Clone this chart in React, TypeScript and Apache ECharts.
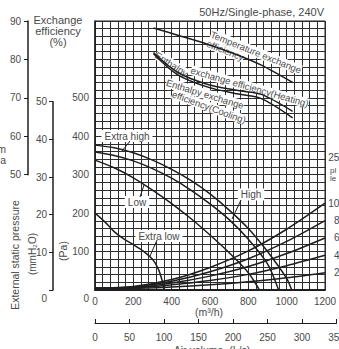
import React, { useEffect, useRef } from "react";
import * as echarts from "echarts";

const FONT = "'Liberation Sans', Arial, Helvetica, sans-serif";
const TEXT = "#4a4a4a";
const INK = "#1e1e1e";

// ---- axes ----
const airVolumeMax = 1200; // m³/h
const airVolumeStep = 200;
const airVolumeGridStep = 40;
const airVolumeLsMax = 350; // L/s
const airVolumeLsStep = 50;
const pressureMax = 700; // Pa (grid top)
const pressureLabelMax = 500;
const pressureStep = 100;
const pressureGridStep = 20;
const efficiencyMin = 50;
const efficiencyMax = 90;
const efficiencyStep = 10;
const efficiencyAtZeroPa = 20; // 50 % sits on 300 Pa, 90 % on 700 Pa
const mmH2OMax = 50;
const mmH2OStep = 10;
const powerAxisMax = 310;
const powerLabels = [20, 40, 60, 80, 100];

// ---- fan curves (m³/h, Pa) ----
const extraHighFlow = [0, 100, 200, 300, 400, 500, 600, 700, 800, 900, 1000, 1026];
const extraHighPa = [377, 370, 357, 338, 314, 285, 250, 208, 160, 100, 30, 0];
const highFlow = [0, 100, 200, 300, 400, 500, 600, 700, 800, 900, 958];
const highPa = [359, 350, 336, 316, 291, 260, 224, 183, 132, 68, 0];
const lowFlow = [0, 100, 200, 300, 400, 500, 600, 700, 800, 858];
const lowPa = [338, 318, 292, 260, 225, 186, 143, 97, 45, 0];
const extraLowFlow = [0, 50, 100, 150, 200, 250, 300, 330, 350, 360];
const extraLowPa = [200, 178, 152, 133, 118, 102, 80, 55, 25, 0];

// ---- power curves (m³/h, right scale) ----
const powerFlow = [0, 200, 400, 600, 800, 1000, 1200];
const powerExtraHigh = [2, 4, 12, 26, 45, 70, 100];
const powerHigh = [2, 3.5, 10, 21, 36, 56, 80];
const powerMid = [2, 3, 8, 16, 27, 42, 60];
const powerLow = [2, 2.5, 6, 11, 18, 28, 40];
const powerExtraLow = [2, 2, 3.5, 6, 9.5, 14, 20];

// ---- exchange efficiency (m³/h, %) ----
const efficiencyFlow = [305, 432, 589, 747, 868, 1031];
const temperatureEff = [88.2, 86.3, 83.9, 81.1, 78.5, 74.0];
const enthalpyHeatingEff = [81.8, 76.6, 73.5, 71.9, 70.9, 66.5];
const enthalpyCoolingEff = [81.5, 76.0, 72.8, 71.0, 69.8, 64.8];

const zip = (xs: number[], ys: number[]) => xs.map((x, i) => [x, ys[i]]);
const deg = (d: number) => (d * Math.PI) / 180;

function txt(text: string, x: number, y: number, o: any = {}) {
  const style: any = {
    text,
    fontSize: o.size ?? 10,
    fontFamily: FONT,
    fill: o.color ?? TEXT,
    align: o.align ?? "center",
    verticalAlign: "middle",
  };
  if (o.bg) style.backgroundColor = o.bg;
  if (o.pad) style.padding = o.pad;
  return { type: "text", x, y, rotation: o.rot ? deg(o.rot) : 0, z: o.z ?? 1, silent: true, style };
}

function leader(x1: number, y1: number, x2: number, y2: number) {
  return {
    type: "line",
    z: 5,
    silent: true,
    shape: { x1, y1, x2, y2 },
    style: { stroke: INK, lineWidth: 1 },
  };
}

export default function App() {
  const ref = useRef<HTMLDivElement>(null);

  useEffect(() => {
    document.body.style.margin = "0";
    const chart = echarts.init(ref.current!, undefined, { renderer: "svg" });

    const gridLeft = 95;
    const gridTop = 21;
    const gridW = 230;
    const gridH = 269;
    const gridBottom = gridTop + gridH;

    const lineSeries = (data: number[][], yAxisIndex: number, width = 1.5) => ({
      type: "line",
      xAxisIndex: 0,
      yAxisIndex,
      data,
      smooth: 0.3,
      symbol: "none",
      z: 3,
      lineStyle: { color: INK, width },
    });

    const zeroLow = { z: { padding: [16, 0, 0, 0], fontSize: 10, color: TEXT, fontFamily: FONT } };
    const mmH = (gridH * mmH2OMax * 9.8) / pressureMax;
    const noBounds = { outerBoundsMode: "none", containLabel: false };

    const option: any = {
      animation: false,
      backgroundColor: "#fff",
      textStyle: { fontFamily: FONT },
      grid: [
        { ...noBounds, left: gridLeft, top: gridTop, width: gridW, height: gridH, show: true, borderColor: INK, borderWidth: 1 },
        { ...noBounds, left: 28, top: gridTop, width: 1, height: (gridH * (efficiencyMax - efficiencyMin) * 10) / pressureMax },
        { ...noBounds, left: 53, top: gridBottom - mmH, width: 1, height: mmH },
        { ...noBounds, left: gridLeft, top: 322, width: (gridW * airVolumeLsMax * 3.6) / airVolumeMax, height: 1 },
      ],
      xAxis: [
        {
          gridIndex: 0,
          type: "value",
          min: 0,
          max: airVolumeMax,
          interval: airVolumeGridStep,
          axisLine: { show: true, lineStyle: { color: INK, width: 2 } },
          axisTick: { show: false },
          splitLine: { show: true, lineStyle: { color: "#2e2e2e", width: 1 } },
          axisLabel: {
            margin: 6,
            color: TEXT,
            fontSize: 10,
            formatter: (v: number) => (v % airVolumeStep === 0 ? String(v) : ""),
          },
        },
        { gridIndex: 1, type: "value", show: false, min: 0, max: 1 },
        { gridIndex: 2, type: "value", show: false, min: 0, max: 1 },
        {
          gridIndex: 3,
          type: "value",
          min: 0,
          max: airVolumeLsMax,
          interval: airVolumeLsStep,
          axisLine: { show: true, onZero: false, lineStyle: { color: INK, width: 1 } },
          axisTick: { show: true, inside: true, length: 4, lineStyle: { color: INK } },
          splitLine: { show: false },
          axisLabel: { margin: 9, color: TEXT, fontSize: 10 },
        },
      ],
      yAxis: [
        {
          gridIndex: 0,
          type: "value",
          min: 0,
          max: pressureMax,
          interval: pressureGridStep,
          axisLine: { show: true, lineStyle: { color: INK, width: 1.5 } },
          axisTick: { show: false },
          splitLine: { show: true, lineStyle: { color: "#2e2e2e", width: 1 } },
          axisLabel: {
            margin: 6,
            color: TEXT,
            fontSize: 10,
            rich: zeroLow,
            formatter: (v: number) =>
              v % pressureStep === 0 && v <= pressureLabelMax ? (v === 0 ? "{z|0}" : String(v)) : "",
          },
        },
        {
          gridIndex: 0,
          type: "value",
          position: "right",
          min: 0,
          max: powerAxisMax,
          interval: 20,
          axisLine: { show: false },
          axisTick: { show: false },
          splitLine: { show: false },
          axisLabel: {
            margin: 20,
            align: "right",
            color: TEXT,
            fontSize: 10,
            formatter: (v: number) => (powerLabels.includes(v) ? String(v) : ""),
          },
        },
        { gridIndex: 0, type: "value", show: false, min: efficiencyAtZeroPa, max: efficiencyMax },
        {
          gridIndex: 1,
          type: "value",
          min: efficiencyMin,
          max: efficiencyMax,
          interval: efficiencyStep,
          axisLine: { show: true, lineStyle: { color: INK, width: 1.5 } },
          axisTick: { show: true, length: 4, lineStyle: { color: INK } },
          splitLine: { show: false },
          axisLabel: { margin: 7, color: TEXT, fontSize: 10 },
        },
        {
          gridIndex: 2,
          type: "value",
          min: 0,
          max: mmH2OMax,
          interval: mmH2OStep,
          axisLine: { show: true, lineStyle: { color: INK, width: 1.5 } },
          axisTick: { show: true, length: 4, lineStyle: { color: INK } },
          splitLine: { show: false },
          axisLabel: {
            margin: 6,
            color: TEXT,
            fontSize: 10,
            rich: zeroLow,
            formatter: (v: number) => (v === 0 ? "{z|0}" : String(v)),
          },
        },
        { gridIndex: 3, type: "value", show: false, min: 0, max: 1 },
      ],
      series: [
        lineSeries(zip(extraHighFlow, extraHighPa), 0),
        lineSeries(zip(highFlow, highPa), 0),
        lineSeries(zip(lowFlow, lowPa), 0),
        lineSeries(zip(extraLowFlow, extraLowPa), 0),
        lineSeries(zip(powerFlow, powerExtraHigh), 1),
        lineSeries(zip(powerFlow, powerHigh), 1),
        lineSeries(zip(powerFlow, powerMid), 1),
        lineSeries(zip(powerFlow, powerLow), 1),
        lineSeries(zip(powerFlow, powerExtraLow), 1),
        lineSeries(zip(efficiencyFlow, temperatureEff), 2),
        lineSeries(zip(efficiencyFlow, enthalpyHeatingEff), 2),
        lineSeries(zip(efficiencyFlow, enthalpyCoolingEff), 2),
      ],
      graphic: [
        txt("50Hz/Single-phase, 240V", 324, 12, { align: "right", size: 11 }),
        txt("Exchange", 58, 20, { size: 11 }),
        txt("efficiency", 58, 31, { size: 11 }),
        txt("(%)", 58, 42, { size: 11 }),
        txt("External static pressure", 15, 255, { rot: 90, size: 10.5 }),
        txt("(mmH\u2082O)", 32, 254, { rot: 90, size: 10 }),
        txt("(Pa)", 63, 251, { rot: 90, size: 10.5 }),
        txt("(m\u00b3/h)", 209, 312, { size: 10.5 }),
        txt("Air volume  (L/s)", 212, 350, { size: 10.5 }),
        txt("m", 6, 149, { align: "right", size: 10.5 }),
        txt("a", 6, 160, { align: "right", size: 10.5 }),
        txt("250", 345, 157, { align: "right", size: 10 }),
        txt("pl", 330, 170, { align: "left", size: 8 }),
        txt("le", 330, 178, { align: "left", size: 8 }),
        // efficiency labels
        txt("Temperature exchange", 211, 34, { align: "left", rot: -22, size: 9.5, bg: "#fff" }),
        txt("efficiency", 207, 43, { align: "left", rot: -22, size: 9.5, bg: "#fff" }),
        txt("Enthalpy", 156, 54, { align: "left", rot: -33, size: 9.5, bg: "#fff" }),
        txt("exchange efficiency(Heating)", 191, 70, { align: "left", rot: -16, size: 9.5, bg: "#fff" }),
        txt("Enthalpy exchange", 205, 94, { rot: -17, size: 9.5, bg: "#fff" }),
        txt("efficiency(Cooling)", 209, 107, { rot: -20, size: 9.5, bg: "#fff" }),
        // fan curve labels
        txt("Extra high", 127, 136, { size: 10, bg: "#fff", pad: [1, 3] }),
        leader(130, 141, 122, 151),
        txt("Low", 137, 202, { size: 10, bg: "#fff", pad: [1, 3] }),
        leader(140, 197, 144, 185),
        txt("High", 251, 194.5, { size: 10, bg: "#fff", pad: [1, 3] }),
        leader(241, 200, 232, 219),
        txt("Extra low", 159, 236, { size: 10, bg: "#fff", pad: [1, 3] }),
        leader(157, 240, 150, 256),
      ],
    };

    chart.setOption(option);
    return () => chart.dispose();
  }, []);

  return <div ref={ref} style={{ width: 339, height: 349 }} />;
}
